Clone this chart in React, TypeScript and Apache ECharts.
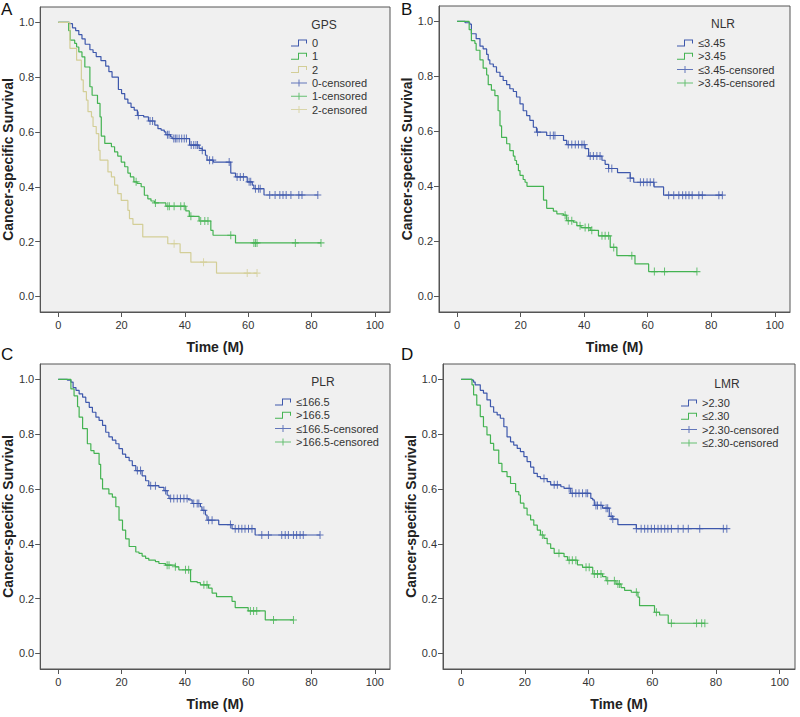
import React, { useEffect, useRef } from "react";
import * as echarts from "echarts";

// ---------- tick labels / texts ----------
const xTicks = [0, 20, 40, 60, 80, 100];
const yTicks = [0, 0.2, 0.4, 0.6, 0.8, 1.0];
const panelLabels = ["A", "B", "C", "D"];
const legendTitles = ["GPS", "NLR", "PLR", "LMR"];
const xAxisTitle = "Time (M)";
const yAxisTitle = "Cancer-specific Survival";

// ---------- A: GPS ----------
const gps0Names = ["0", "1", "2"];
const gps0 = [[0,1],[3.5,0.995],[4.5,0.98],[5.5,0.97],[6.5,0.955],[7.5,0.94],[8.5,0.92],[10,0.9],[11,0.89],[12,0.875],[13.5,0.86],[15,0.84],[16,0.82],[17,0.8],[19,0.755],[20,0.74],[21,0.72],[22,0.705],[23,0.69],[24,0.68],[25,0.66],[27,0.655],[28.5,0.64],[30.5,0.625],[31.5,0.612],[32.5,0.607],[33.5,0.6],[34,0.59],[35.5,0.582],[36,0.576],[41.5,0.552],[44.5,0.54],[45.5,0.533],[46.5,0.515],[47,0.497],[49,0.49],[54.5,0.45],[56,0.436],[59.7,0.418],[61.3,0.406],[61.8,0.393],[65,0.37]];
const gps0Censor = [25.3,29,29.8,34.5,35,36.5,37,37.5,38.2,39,39.8,40.5,42,42.8,43.5,44,45.5,47.8,48.8,54,56.5,57.5,58.5,60.3,60.8,62.3,63.3,63.8,66.8,68.5,70,71,72,73.5,76,77,82];
const gps1 = [[0,1],[3.3,0.97],[3.8,0.935],[5.2,0.923],[5.8,0.91],[6.5,0.892],[7.5,0.874],[8.4,0.837],[10,0.765],[10.7,0.734],[12.4,0.704],[13.2,0.655],[13.6,0.585],[14.7,0.558],[16.8,0.546],[17.8,0.527],[18.8,0.512],[19.9,0.49],[21,0.473],[22,0.45],[22.8,0.436],[23.9,0.418],[24.9,0.412],[26.2,0.4],[27.2,0.369],[28.3,0.356],[29.3,0.348],[30.4,0.341],[34,0.329],[40.3,0.312],[41.4,0.292],[44.5,0.275],[48.2,0.241],[48.9,0.223],[56,0.195]];
const gps1Censor = [24.6,30.7,34.6,35.1,36.6,38.7,39.8,41.9,45,46.3,47.3,54.5,61.8,62.3,62.8,74.9,83];
const gps2 = [[0,1],[3.7,0.905],[5.8,0.862],[7.3,0.79],[7.9,0.747],[8.9,0.716],[9.4,0.674],[10.5,0.655],[11,0.62],[12,0.594],[12.8,0.533],[13.2,0.497],[15.7,0.454],[16.8,0.436],[17.8,0.406],[18.8,0.375],[19.9,0.35],[22,0.314],[22.5,0.284],[23.6,0.263],[26.7,0.217],[34.6,0.192],[38.5,0.16],[41.9,0.125],[50,0.085]];
const gps2Censor = [36.6,45.9,59.7,62.8];

// ---------- B: NLR ----------
const nlrNames = ["≤3.45", ">3.45"];
const nlrLow = [[0,1],[2.5,0.995],[4,0.99],[4.5,0.955],[6,0.937],[7.2,0.91],[8.2,0.9],[9.3,0.88],[9.8,0.86],[10.3,0.845],[11.4,0.835],[12.4,0.815],[13.5,0.8],[14.5,0.785],[15.6,0.77],[16.6,0.755],[17.7,0.745],[18.7,0.725],[19.8,0.7],[20.8,0.675],[21.9,0.657],[22.9,0.64],[24,0.615],[25,0.597],[28.2,0.585],[33.5,0.567],[34.5,0.552],[40.3,0.537],[41.4,0.51],[45.6,0.495],[46.6,0.48],[47.7,0.465],[50.5,0.45],[54.5,0.43],[55.6,0.415],[62,0.398],[65,0.368]];
const nlrLowCensor = [25.3,29.3,30.3,30.8,35,36.1,37.2,38.2,39.3,40,41.9,42.9,44,45,47.7,48.7,54.5,57.7,58.7,59.8,60.8,61.9,66.6,68.2,69.8,71,72,73,74,76.1,77.2,82.4,83.5];
const nlrHigh = [[0,1],[3.8,0.97],[4.5,0.93],[5.6,0.92],[6,0.895],[7.2,0.86],[8.2,0.83],[9.3,0.805],[9.8,0.77],[10.8,0.75],[11.9,0.73],[12.9,0.675],[13.5,0.62],[14,0.578],[15.6,0.555],[16.6,0.53],[17.7,0.51],[18.2,0.494],[18.7,0.48],[19.3,0.457],[19.8,0.44],[20.8,0.425],[21.4,0.415],[22,0.4],[27.2,0.35],[28.2,0.32],[30.3,0.31],[31.4,0.3],[33.5,0.295],[34.5,0.275],[36.6,0.27],[37.7,0.257],[39,0.25],[41.9,0.24],[44.5,0.22],[48.2,0.178],[50.3,0.148],[56,0.118],[60.3,0.09]];
const nlrHighCensor = [34,35,36.1,38.7,40.3,41.4,42.4,45.6,46.6,47.7,49.3,55,62.1,65.3,75.5];

// ---------- C: PLR ----------
const plrNames = ["≤166.5", ">166.5"];
const plrLow = [[0,1],[2.9,0.997],[4,0.99],[4.7,0.97],[5.6,0.96],[6.6,0.947],[7.7,0.935],[8.7,0.916],[9.8,0.898],[10.8,0.88],[11.9,0.862],[12.9,0.85],[14,0.832],[15,0.807],[16,0.79],[17.1,0.778],[18.2,0.765],[19.2,0.747],[20.3,0.727],[21.3,0.715],[22.4,0.703],[23.4,0.685],[24.5,0.667],[26.5,0.648],[27.6,0.63],[28.6,0.612],[31.8,0.606],[33.4,0.594],[34.4,0.577],[35,0.565],[41.2,0.56],[42.3,0.547],[44.9,0.535],[45.4,0.522],[46.5,0.505],[47,0.486],[50.7,0.47],[54.9,0.455],[62.2,0.432]];
const plrLowCensor = [25,26,29.2,30.7,33.9,35.5,36.5,37.6,38.6,39.7,40.7,42.8,43.9,44.4,46,47.5,48.6,54.4,55.9,57,58,59,60.1,61.2,64.3,66.4,70.6,71.7,72.7,74.3,75.3,76.4,77.4,82.7];
const plrHigh = [[0,1],[4,0.965],[5,0.94],[6.1,0.9],[6.6,0.862],[7.7,0.82],[9.2,0.765],[10.3,0.74],[11.3,0.73],[12.9,0.69],[13.4,0.637],[14,0.6],[16,0.582],[17.1,0.57],[18.2,0.535],[19.2,0.486],[20.3,0.45],[21.3,0.418],[22.4,0.39],[24.5,0.37],[25.5,0.365],[26.5,0.355],[27.6,0.347],[28.6,0.34],[30.7,0.335],[31.8,0.328],[33.9,0.322],[37,0.316],[38.1,0.305],[41.8,0.262],[43.9,0.258],[44.9,0.25],[47.5,0.238],[48.6,0.22],[50,0.207],[54.9,0.19],[55.9,0.167],[60,0.155],[65.4,0.122]];
const plrHighCensor = [34.4,35,37,40.2,41.2,46,47,60.7,61.7,62.7,68,74.3];

// ---------- D: LMR ----------
const lmrNames = [">2.30", "≤2.30"];
const lmrHigh = [[0,1],[3.4,0.997],[3.9,0.99],[4.4,0.98],[6,0.96],[7,0.95],[8.1,0.925],[9.2,0.9],[10.2,0.88],[11.3,0.87],[12.3,0.858],[13.4,0.827],[14.4,0.79],[15.5,0.772],[16.5,0.76],[17.6,0.748],[18.6,0.736],[19.7,0.718],[20.7,0.7],[21.8,0.68],[22.8,0.657],[23.9,0.645],[24.9,0.638],[27,0.627],[28.1,0.615],[31.3,0.608],[32.3,0.602],[34.4,0.584],[40.7,0.566],[41.3,0.56],[41.8,0.54],[44.4,0.53],[46.5,0.5],[47.6,0.49],[49.2,0.47],[55,0.455]];
const lmrHighCensor = [26,29.2,30.2,33.9,34.9,36,37,38.1,39.2,39.7,42.3,42.8,43.9,45.5,46,47.1,47.6,55,56.5,57.6,58.6,59.7,60.7,61.8,62.8,63.9,64.9,66,68.1,69.7,71.3,74.9,82.3,83.4];
const lmrLow = [[0,1],[3.4,0.98],[3.9,0.943],[4.9,0.906],[6,0.864],[7,0.827],[8.1,0.797],[9.2,0.766],[10.2,0.742],[11.8,0.693],[12.8,0.663],[14.4,0.645],[15.5,0.62],[17.1,0.59],[18.1,0.578],[18.6,0.548],[19.7,0.53],[20.7,0.505],[21.8,0.487],[22.8,0.468],[23.9,0.45],[24.9,0.432],[26,0.42],[27,0.4],[28.1,0.383],[29.2,0.365],[32.3,0.353],[33.4,0.34],[36.5,0.323],[38.1,0.314],[41.3,0.29],[44.4,0.28],[45.5,0.265],[48.6,0.253],[50.2,0.24],[51.3,0.23],[53.4,0.223],[55.5,0.205],[56,0.174],[60.7,0.15],[62.3,0.14],[65,0.11]];
const lmrLowCensor = [25.5,30.7,33.9,34.9,36,39.2,40.2,41.8,42.8,43.9,46,48.1,49.2,49.7,55,61.3,66,73.9,75.5,76.5];

// ---------- styles ----------
const BLUE = "#3e58ac";
const GREEN = "#44b352";
const TAN = "#d3ce97";
const FONT = "Arial, 'Liberation Sans', sans-serif";

const panels = [
  { groups: [
    { name: gps0Names[0], steps: gps0, censor: gps0Censor, color: BLUE },
    { name: gps0Names[1], steps: gps1, censor: gps1Censor, color: GREEN },
    { name: gps0Names[2], steps: gps2, censor: gps2Censor, color: TAN },
  ] },
  { groups: [
    { name: nlrNames[0], steps: nlrLow, censor: nlrLowCensor, color: BLUE },
    { name: nlrNames[1], steps: nlrHigh, censor: nlrHighCensor, color: GREEN },
  ] },
  { groups: [
    { name: plrNames[0], steps: plrLow, censor: plrLowCensor, color: BLUE },
    { name: plrNames[1], steps: plrHigh, censor: plrHighCensor, color: GREEN },
  ] },
  { groups: [
    { name: lmrNames[0], steps: lmrHigh, censor: lmrHighCensor, color: BLUE },
    { name: lmrNames[1], steps: lmrLow, censor: lmrLowCensor, color: GREEN },
  ] },
];

// layout
const gridBoxes = [
  { left: 39, top: 7, width: 351, height: 305 },
  { left: 439, top: 6, width: 351, height: 306 },
  { left: 39, top: 364, width: 351, height: 305 },
  { left: 443, top: 364, width: 352, height: 305 },
];
const labelPos = [
  { left: 1, top: 1 },
  { left: 401, top: 1 },
  { left: 1, top: 346 },
  { left: 401, top: 346 },
];
const legendTitlePos = [
  { x: 324, y: 25 },
  { x: 723, y: 24 },
  { x: 323, y: 382 },
  { x: 727, y: 384 },
];
const legendPos = [
  { left: 291, top: 36.5 },
  { left: 677, top: 36.5 },
  { left: 275, top: 395.5 },
  { left: 681, top: 396.5 },
];

const STEP_ICON = "path://M0,6H7V0H16V4H15V1H8V7H0Z";
const CENSOR_ICON = "path://M0,3H7.5V0H8.5V3H16V4H8.5V7H7.5V4H0Z";
const PLUS = "path://M3,0H4V3H7V4H4V7H3V4H0V3H3Z";

function stepAt(steps: number[][], t: number): number {
  let v = steps[0][1];
  for (const p of steps) {
    if (p[0] <= t) v = p[1];
    else break;
  }
  return v;
}

function buildOption() {
  const grid: any[] = [];
  const xAxis: any[] = [];
  const yAxis: any[] = [];
  const series: any[] = [];
  const legend: any[] = [];
  const title: any[] = [];
  const graphic: any[] = [];

  panels.forEach((panel, i) => {
    grid.push({
      ...gridBoxes[i],
      show: true,
      backgroundColor: "#f0f0f0",
      borderColor: "#555",
      borderWidth: 1,
      containLabel: false,
    });
    xAxis.push({
      gridIndex: i,
      type: "value",
      min: -5.7,
      max: 104.8,
      axisLine: { show: true, onZero: false, lineStyle: { color: "#555", width: 1 } },
      axisTick: { show: true, length: 5, customValues: xTicks, lineStyle: { color: "#555" } },
      axisLabel: { customValues: xTicks, margin: 7, color: "#333", fontSize: 11, fontFamily: FONT },
      splitLine: { show: false },
      name: xAxisTitle,
      nameLocation: "middle",
      nameGap: 28,
      nameTextStyle: { fontWeight: "bold", fontSize: 14, color: "#222", fontFamily: FONT },
    });
    yAxis.push({
      gridIndex: i,
      type: "value",
      min: -0.057,
      max: 1.056,
      axisLine: { show: true, onZero: false, lineStyle: { color: "#555", width: 1 } },
      axisTick: { show: true, length: 5, customValues: yTicks, lineStyle: { color: "#555" } },
      axisLabel: {
        customValues: yTicks,
        margin: 6,
        color: "#333",
        fontSize: 11,
        fontFamily: FONT,
        formatter: (v: number) => v.toFixed(1),
      },
      splitLine: { show: false },
      name: yAxisTitle,
      nameLocation: "middle",
      nameGap: 23,
      nameTextStyle: { fontWeight: "bold", fontSize: 14, color: "#222", fontFamily: FONT },
    });

    const legendData: any[] = [];
    panel.groups.forEach((g) => {
      legendData.push({ name: g.name, icon: STEP_ICON });
    });
    panel.groups.forEach((g) => {
      legendData.push({ name: g.name + "-censored", icon: CENSOR_ICON });
    });

    panel.groups.forEach((g) => {
      const lastStep = g.steps[g.steps.length - 1];
      const lastCensor = Math.max(...g.censor);
      const lineData = g.steps.map((p) => [p[0], p[1]]);
      if (lastCensor > lastStep[0]) lineData.push([lastCensor, lastStep[1]]);
      series.push({
        type: "line",
        name: g.name,
        xAxisIndex: i,
        yAxisIndex: i,
        step: "end",
        data: lineData,
        showSymbol: false,
        symbol: "none",
        color: g.color,
        lineStyle: { color: g.color, width: 1.2 },
        itemStyle: { color: g.color },
        silent: true,
      });
      series.push({
        type: "scatter",
        name: g.name + "-censored",
        xAxisIndex: i,
        yAxisIndex: i,
        data: g.censor.map((t) => [t, stepAt(g.steps, t)]),
        symbol: PLUS,
        symbolSize: [7, 8],
        color: g.color,
        itemStyle: { color: g.color },
        silent: true,
      });
    });

    legend.push({
      orient: "vertical",
      left: legendPos[i].left,
      top: legendPos[i].top,
      padding: 0,
      itemWidth: 16,
      itemHeight: 7,
      itemGap: 0.3,
      selectedMode: false,
      textStyle: { fontSize: 11, lineHeight: 13, color: "#333", fontFamily: FONT },
      data: legendData,
    });

    title.push({
      text: panelLabels[i],
      left: labelPos[i].left,
      top: labelPos[i].top,
      padding: 0,
      textStyle: { fontSize: 17, fontWeight: "normal", color: "#111", fontFamily: FONT },
    });

    graphic.push({
      type: "text",
      x: legendTitlePos[i].x,
      y: legendTitlePos[i].y,
      style: {
        text: legendTitles[i],
        align: "center",
        verticalAlign: "middle",
        fontSize: 12,
        fontFamily: FONT,
        fill: "#333",
      },
    });
  });

  return {
    animation: false,
    backgroundColor: "#ffffff",
    grid,
    xAxis,
    yAxis,
    series,
    legend,
    title,
    graphic,
  };
}

export default function App() {
  const ref = useRef<HTMLDivElement>(null);
  useEffect(() => {
    if (!ref.current) return;
    const chart = echarts.init(ref.current, undefined, { renderer: "svg" });
    chart.setOption(buildOption() as any);
    return () => chart.dispose();
  }, []);
  return (
    <div
      ref={ref}
      style={{ position: "fixed", left: 0, top: 0, width: 800, height: 717, background: "#fff" }}
    />
  );
}
